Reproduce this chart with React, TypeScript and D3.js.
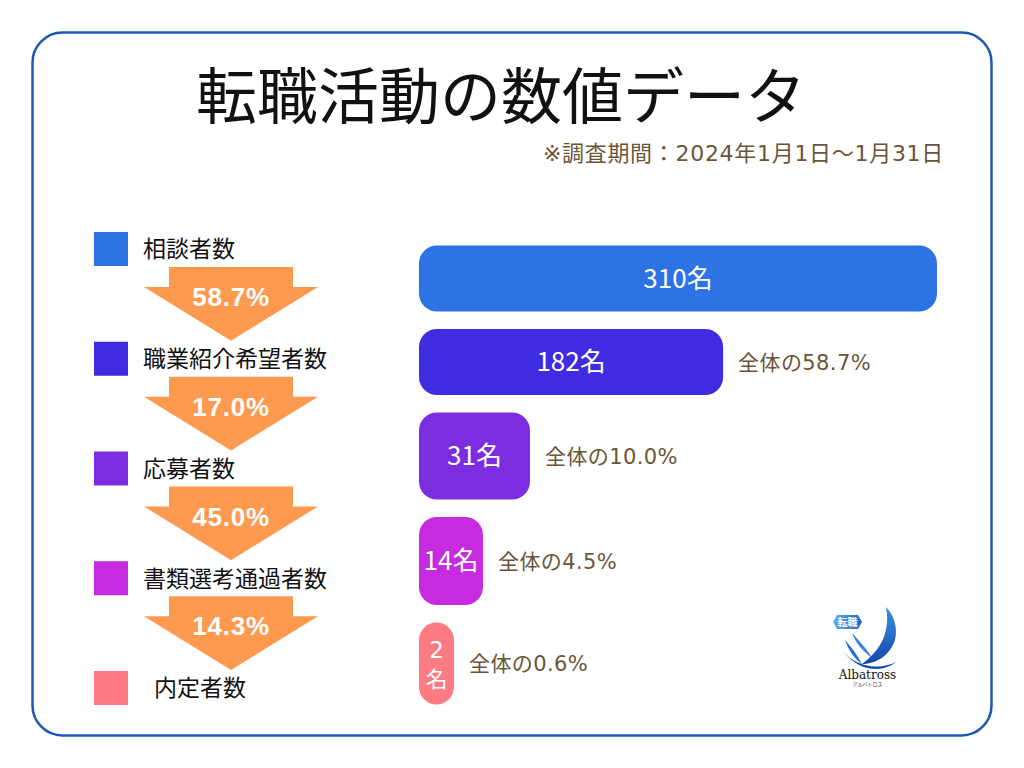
import React from 'react';
import * as d3 from 'd3';

// ---- data ----
const stages = ['相談者数', '職業紹介希望者数', '応募者数', '書類選考通過者数', '内定者数'];
const counts = [310, 182, 31, 14, 2];
const shareOfTotal = [null, 58.7, 10.0, 4.5, 0.6];
const stepRates = [58.7, 17.0, 45.0, 14.3];
const title = '転職活動の数値データ';
const periodNote = '※調査期間：2024年1月1日～1月31日';

// ---- styles ----
const colors = ['#2d73e3', '#402ce0', '#7d2de0', '#c62be0', '#ff7b84'];
const barHeights = [66, 66, 87, 88, 82];
const barMinWidths = [0, 0, 111, 64, 35];
const labelDx = [0, 0, 0, 0, 11];
const arrowColor = '#fe9a50';
const brown = '#6b5538';
const JP = '"Noto Sans CJK JP", "Noto Sans", sans-serif';
const WIDE = '"DejaVu Sans", "Noto Sans CJK JP", sans-serif';

const W = 1024, H = 768;

export default function App() {
  // legend rows
  const rowY = d3.scalePoint<string>().domain(stages).range([249, 688]);
  // bars
  const x = d3.scaleLinear().domain([0, d3.max(counts) as number]).range([0, 518]);
  const barX0 = 419;
  const gap = 17.5;
  const barTops: number[] = [];
  let acc = 245.5;
  barHeights.forEach((h) => { barTops.push(acc); acc += h + gap; });
  const fmt = d3.format('.1f');

  const arrowPath = (top: number, tip: number, cx: number) => {
    const sh = 62, hh = 87, headY = top + 20;
    const p = d3.path();
    p.moveTo(cx - sh, top);
    p.lineTo(cx + sh, top);
    p.lineTo(cx + sh, headY);
    p.lineTo(cx + hh, headY);
    p.lineTo(cx, tip);
    p.lineTo(cx - hh, headY);
    p.lineTo(cx - sh, headY);
    p.closePath();
    return p.toString();
  };

  return (
    <svg width={W} height={H} style={{ position: 'absolute', left: 0, top: 0, background: '#fff' }}>
      <defs>
        <linearGradient id="wing" x1="0" y1="0" x2="0" y2="1">
          <stop offset="0" stopColor="#3d8fe6" />
          <stop offset="1" stopColor="#1647a8" />
        </linearGradient>
        <linearGradient id="badge" x1="0" y1="0" x2="1" y2="0">
          <stop offset="0" stopColor="#5fb0f2" />
          <stop offset="1" stopColor="#1f62c8" />
        </linearGradient>
      </defs>
      <rect x={0} y={0} width={W} height={H} fill="#fff" />
      <rect x={32.5} y={32.5} width={959} height={703} rx={30} ry={30} fill="#fff" stroke="#1c58b8" strokeWidth={2.5} />

      <text x={501} y={119} textAnchor="middle" fontFamily={JP} fontSize={61} fontWeight={400} fill="#111">{title}</text>
      <text x={944} y={161} textAnchor="end" fontFamily={WIDE} fontSize={22} letterSpacing={0.7} fill={brown}>{periodNote}</text>

      {/* legend / funnel */}
      {stages.map((s, i) => {
        const cy = rowY(s) as number;
        return (
          <g key={s}>
            <rect x={94} y={cy - 17} width={34} height={34} fill={colors[i]} />
            <text x={143 + labelDx[i]} y={cy} dy="0.36em" fontFamily={JP} fontSize={23} fill="#111">{s}</text>
          </g>
        );
      })}
      {stepRates.map((r, i) => {
        const top = (rowY(stages[i]) as number) + 18;
        const tip = (rowY(stages[i + 1]) as number) - 18;
        return (
          <g key={'a' + i}>
            <path d={arrowPath(top, tip, 231)} fill={arrowColor} />
            <text x={231} y={top + 39} textAnchor="middle" fontFamily='"Liberation Sans", Arial, sans-serif' fontWeight={700} fontSize={26} letterSpacing={0.8} fill="#fff">{fmt(r) + '%'}</text>
          </g>
        );
      })}

      {/* bars */}
      {counts.map((v, i) => {
        const w = Math.max(x(v), barMinWidths[i]);
        const y0 = barTops[i];
        const h = barHeights[i];
        const cx = barX0 + w / 2;
        const cy = y0 + h / 2;
        const stacked = w < 45;
        return (
          <g key={'b' + i}>
            <rect x={barX0} y={y0} width={w} height={h} rx={Math.min(18, w / 2)} ry={Math.min(18, w / 2)} fill={colors[i]} />
            {stacked ? (
              <g>
                <text x={cx} y={cy - 14} dy="0.36em" textAnchor="middle" fontFamily={WIDE} fontSize={23} fill="#fff">{String(v)}</text>
                <text x={cx} y={cy + 16} dy="0.36em" textAnchor="middle" fontFamily={JP} fontSize={22} fill="#fff">名</text>
              </g>
            ) : (
              <text x={cx} y={cy} dy="0.36em" textAnchor="middle" fontFamily={JP} fontSize={26} fill="#fff">{v + '名'}</text>
            )}
            {shareOfTotal[i] !== null && (
              <text x={barX0 + w + 15} y={cy} dy="0.36em" fontFamily={WIDE} fontSize={21} letterSpacing={0.4} fill={brown}>{'全体の' + fmt(shareOfTotal[i] as number) + '%'}</text>
            )}
          </g>
        );
      })}

      {/* logo */}
      <g>
        <path d="M833,622 L837,615 L858,615 L862,622 L858,629 L837,629 Z" fill="url(#badge)" />
        <text x={847.5} y={626} textAnchor="middle" fontFamily={JP} fontSize={10} fontWeight={700} fill="#fff">転職</text>
        <path d="M886,607 C890,628 884,648 862,664 C877,664 890,655 895,640 C898,628 894,615 886,607 Z" fill="url(#wing)" />
        <path d="M845,640 C852,648 858,656 862,664 C856,660 849,652 845,640 Z" fill="#2a6fd0" />
        <path d="M842,650 C856,668 880,670 896,662 C884,672 860,674 842,650 Z" fill="#1a4fb0" />
        <path d="M852,633 C860,642 868,650 872,658 C864,652 856,644 852,633 Z" fill="#3a86de" />
        <text x={867.5} y={679} textAnchor="middle" fontFamily='"DejaVu Serif", "Liberation Serif", serif' fontSize={12} fill="#111">Albatross</text>
        <text x={867.5} y={686} textAnchor="middle" fontFamily={JP} fontSize={5} fill="#333">アルバトロス</text>
      </g>
    </svg>
  );
}
